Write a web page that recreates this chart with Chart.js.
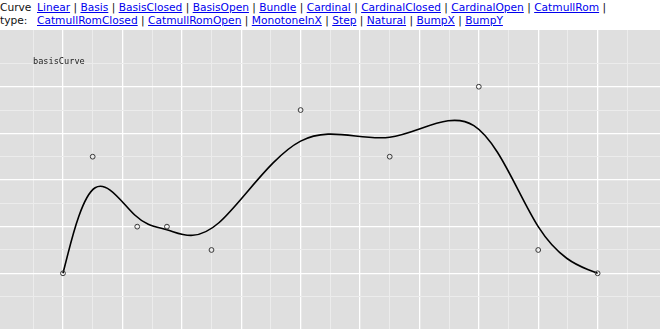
<!DOCTYPE html>
<html>
<head>
<meta charset="utf-8">
<script src="https://cdn.jsdelivr.net/npm/chart.js@4"></script>
<style>
  html, body { margin: 0; padding: 0; background: #fff; width: 660px; height: 336px; overflow: hidden; }
  #hdr { position: absolute; left: 0; top: 0; font-family: 'DejaVu Sans', sans-serif; font-size: 10.65px; line-height: 13px; color: #111; }
  #hdrLabel { position: absolute; left: 0; top: 0.5px; }
  #hdrLinks { position: absolute; left: 37px; top: 0.5px; white-space: nowrap; }
  #hdrLinks a { color: #0000ee; text-decoration: underline; }
  #plot { position: absolute; left: 0; top: 30px; width: 660px; height: 299px; background: #dfdfdf; }
  #curveName { position: absolute; left: 33px; top: 56px; font-family: 'DejaVu Sans Mono', monospace; font-size: 8.6px; color: #222; }
</style>
</head>
<body>
<div id="hdr">
  <div id="hdrLabel">Curve<br>type:</div>
  <div id="hdrLinks"></div>
</div>
<div id="plot"><canvas id="c" width="660" height="299"></canvas></div>
<div id="curveName">basisCurve</div>
<script>
// ---- data ----
const curveTypesLine1 = ["Linear", "Basis", "BasisClosed", "BasisOpen", "Bundle", "Cardinal", "CardinalClosed", "CardinalOpen", "CatmullRom"];
const curveTypesLine2 = ["CatmullRomClosed", "CatmullRomOpen", "MonotoneInX", "Step", "Natural", "BumpX", "BumpY"];
const xValues = [0, 0.5, 1.25, 1.75, 2.5, 4, 5.5, 7, 8, 9];
const yValues = [0, 2.5, 1, 1, 0.5, 3.5, 2.5, 4, 0.5, 0];
const xTicks = [-0.5, 0, 0.5, 1, 1.5, 2, 2.5, 3, 3.5, 4, 4.5, 5, 5.5, 6, 6.5, 7, 7.5, 8, 8.5, 9, 9.5];
const yTicks = [-0.5, 0, 0.5, 1, 1.5, 2, 2.5, 3, 3.5, 4, 4.5];

// ---- header ----
const linkHtml = arr => arr.map(n => '<a href="#">' + n + '</a>').join(' | ');
document.getElementById('hdrLinks').innerHTML = linkHtml(curveTypesLine1) + ' |<br>' + linkHtml(curveTypesLine2);

// ---- basis curve plugin (d3.curveBasis algorithm on scale pixels) ----
const basisCurvePlugin = {
  id: 'basisCurve',
  beforeDatasetsDraw(chart) {
    const xs = chart.scales.x, ys = chart.scales.y;
    const pts = chart.data.datasets[0].data.map(p => [xs.getPixelForValue(p.x), ys.getPixelForValue(p.y)]);
    const ctx = chart.ctx;
    ctx.save();
    ctx.beginPath();
    let x0, y0, x1, y1, state = 0;
    const seg = (x, y) => ctx.bezierCurveTo((2 * x0 + x1) / 3, (2 * y0 + y1) / 3, (x0 + 2 * x1) / 3, (y0 + 2 * y1) / 3, (x0 + 4 * x1 + x) / 6, (y0 + 4 * y1 + y) / 6);
    for (const [x, y] of pts) {
      if (state === 0) { state = 1; ctx.moveTo(x, y); }
      else if (state === 1) { state = 2; }
      else if (state === 2) { state = 3; ctx.lineTo((5 * x0 + x1) / 6, (5 * y0 + y1) / 6); seg(x, y); }
      else { seg(x, y); }
      x0 = x1; x1 = x; y0 = y1; y1 = y;
    }
    if (state === 3) seg(x1, y1);
    if (state >= 2) ctx.lineTo(x1, y1);
    ctx.strokeStyle = '#000';
    ctx.lineWidth = 1.6;
    ctx.lineJoin = 'round';
    ctx.stroke();
    ctx.restore();
  }
};

const gridColor = c => (c.tick && Number.isInteger(c.tick.value)) ? '#ffffff' : '#ececec';
const gridWidth = c => (c.tick && Number.isInteger(c.tick.value)) ? 1.3 : 1;

new Chart(document.getElementById('c'), {
  type: 'scatter',
  data: {
    datasets: [{
      data: xValues.map((x, i) => ({ x: x, y: yValues[i] })),
      pointRadius: 2.4,
      pointBorderWidth: 1,
      pointBorderColor: '#3a3a3a',
      pointBackgroundColor: 'rgba(0,0,0,0)',
      showLine: false
    }]
  },
  plugins: [basisCurvePlugin],
  options: {
    responsive: false,
    animation: false,
    events: [],
    layout: { padding: 0, autoPadding: false },
    plugins: { legend: { display: false }, tooltip: { enabled: false } },
    scales: {
      x: {
        type: 'linear', min: -1.06, max: 10.05,
        afterBuildTicks: s => { s.ticks = xTicks.map(v => ({ value: v })); },
        ticks: { display: false },
        border: { display: false },
        grid: { drawTicks: false, tickLength: 0, color: gridColor, lineWidth: gridWidth }
      },
      y: {
        type: 'linear', min: -1.194, max: 5.216,
        afterBuildTicks: s => { s.ticks = yTicks.map(v => ({ value: v })); },
        ticks: { display: false },
        border: { display: false },
        grid: { drawTicks: false, tickLength: 0, color: gridColor, lineWidth: gridWidth }
      }
    }
  }
});
</script>
</body>
</html>
